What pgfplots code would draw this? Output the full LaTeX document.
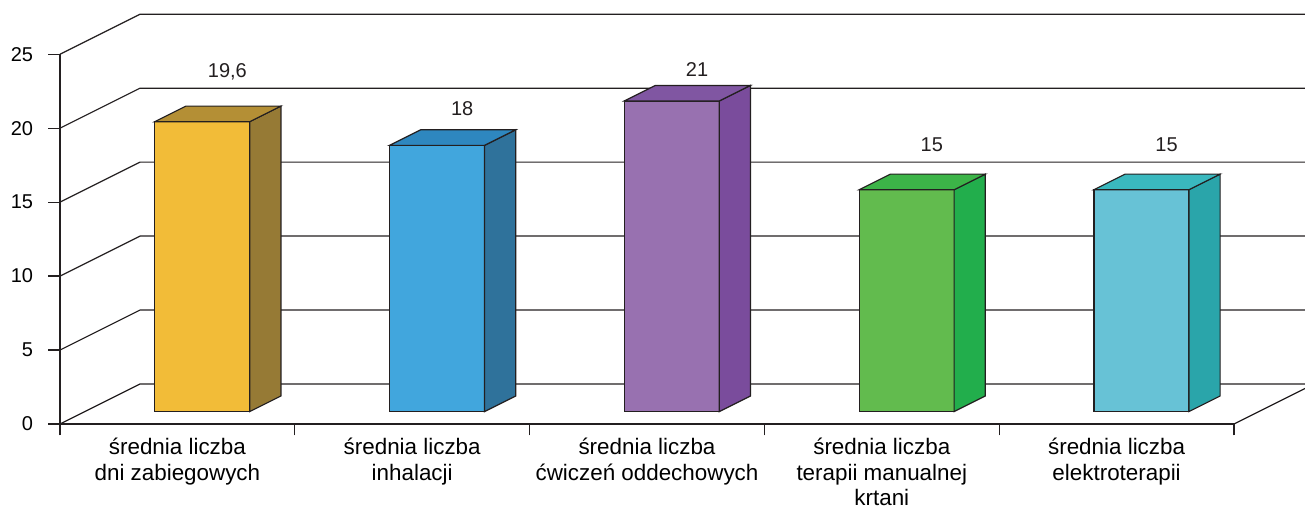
\documentclass[border=0pt]{standalone}
\usepackage{fontspec}
\setmainfont{Liberation Sans}
\usepackage{pgfplots}
\usepackage{pgfplotstable}
\pgfplotsset{compat=1.18}

\definecolor{lc}{HTML}{231F20}
\definecolor{front1}{HTML}{F2BC38}\definecolor{side1}{HTML}{967A35}\definecolor{top1}{HTML}{B48F35}
\definecolor{front2}{HTML}{41A6DD}\definecolor{side2}{HTML}{2F729B}\definecolor{top2}{HTML}{2E87BF}
\definecolor{front3}{HTML}{9871B0}\definecolor{side3}{HTML}{7A4C9C}\definecolor{top3}{HTML}{8056A2}
\definecolor{front4}{HTML}{62BB4E}\definecolor{side4}{HTML}{22AE4C}\definecolor{top4}{HTML}{3CB448}
\definecolor{front5}{HTML}{67C2D6}\definecolor{side5}{HTML}{2AA5AA}\definecolor{top5}{HTML}{3AB8BE}

% values of the bars
\pgfplotstableread{
x y idx
0 19.6 1
1 18 2
2 21 3
3 15 4
4 15 5
}\bars

% where the value labels sit (ly) and what they say (val)
\pgfplotstableread{
x ly val
0 23.8 19.6
1 21.3 18
2 24.0 21
3 18.9 15
4 18.9 15
}\labs

% a box: front face, top and right side; origin = (category, value) on the front plane
\pgfdeclareplotmark{bar3d}{%
  \pgfmathsetlengthmacro\bh{\barval*7.395pt}%
  \pgfmathtruncatemacro\bi{\baridx}%
  \pgfsetlinewidth{0.6pt}\pgfsetstrokecolor{lc}\pgfsetmiterjoin
  \pgfsetfillcolor{front\bi}%
  \pgfpathrectangle{\pgfpoint{-11.35pt}{6.2pt-\bh}}{\pgfpoint{47.5pt}{\bh}}%
  \pgfusepath{fill,stroke}%
  \pgfsetfillcolor{side\bi}%
  \pgfpathmoveto{\pgfpoint{36.15pt}{6.2pt}}%
  \pgfpathlineto{\pgfpoint{51.75pt}{14pt}}%
  \pgfpathlineto{\pgfpoint{51.75pt}{14pt-\bh}}%
  \pgfpathlineto{\pgfpoint{36.15pt}{6.2pt-\bh}}%
  \pgfpathclose\pgfusepath{fill,stroke}%
  \pgfsetfillcolor{top\bi}%
  \pgfpathmoveto{\pgfpoint{-11.35pt}{6.2pt}}%
  \pgfpathlineto{\pgfpoint{4.25pt}{14pt}}%
  \pgfpathlineto{\pgfpoint{51.75pt}{14pt}}%
  \pgfpathlineto{\pgfpoint{36.15pt}{6.2pt}}%
  \pgfpathclose\pgfusepath{fill,stroke}%
}

\begin{document}
\begin{tikzpicture}[font=\fontsize{10}{12.75}\selectfont]
\begin{axis}[
    at={(0,0)}, anchor=south west,
    x=117.4pt, y=7.395pt,
    xmin=-0.5, xmax=4.5,
    ymin=0, ymax=25,
    clip=false,
    axis x line*=bottom,
    axis y line*=left,
    axis line style={-, lc, line width=0.6pt},
    every tick/.style={lc, line width=0.6pt},
    tick align=outside,
    ytick={0,5,...,25},
    major tick length=5.75pt,
    yticklabel style={inner sep=0pt, xshift=-7.5pt},
    xtick={-0.5,0.5,1.5,2.5,3.5,4.5},
    xticklabels={},
    extra x ticks={0,1,2,3,4},
    extra x tick labels={{średnia liczba\\dni zabiegowych},
                 {średnia liczba\\inhalacji},
                 {średnia liczba\\ćwiczeń oddechowych},
                 {średnia liczba\\terapii manualnej\\krtani},
                 {średnia liczba\\elektroterapii}},
    extra x tick style={major tick length=0pt,
        xticklabel style={align=center, anchor=north, inner sep=0pt, yshift=-7pt,
                          font=\fontsize{11.2}{12.75}\selectfont}},
    /pgf/number format/assume math mode=true,
]
% back wall and left floor edges
\pgfplotsinvokeforeach{0,5,10,15,20,25}{
  \draw[lc, line width=0.6pt] (axis cs:-0.5,#1) -- ++(40pt,20pt) -- ++(582.5pt,0pt);
}
\draw[lc, line width=0.6pt] (axis cs:4.5,0) -- ++(35.5pt,17.75pt);

\addplot[scatter, only marks, mark=bar3d,
    visualization depends on=rawy \as \barval,
    visualization depends on=\thisrow{idx} \as \baridx]
    table[x=x, y=y] {\bars};

\addplot[draw=none, mark=none, point meta=explicit,
    nodes near coords={\pgfmathprintnumber[use comma, assume math mode=true]{\pgfplotspointmeta}},
    nodes near coords align=center,
    every node near coord/.style={xshift=25pt, inner sep=0pt, text=lc}]
    table[x=x, y=ly, meta=val] {\labs};
\end{axis}
\pgfresetboundingbox
\path[use as bounding box] (-30pt,-42pt) rectangle (622.5pt,212pt);
\end{tikzpicture}
\end{document}
